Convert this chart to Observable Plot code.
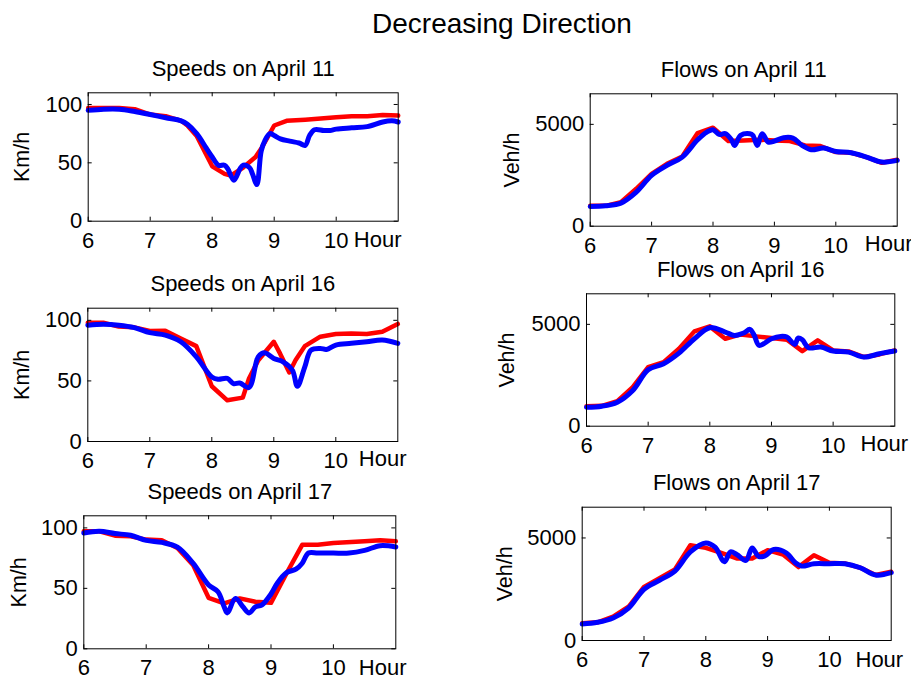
<!DOCTYPE html>
<html>
<head>
<meta charset="utf-8">
<script src="https://cdn.jsdelivr.net/npm/d3@7"></script>
<script src="https://cdn.jsdelivr.net/npm/@observablehq/plot@0.6"></script>
<style>
  body { margin: 0; background: #fff; }
  #fig { position: relative; width: 911px; height: 676px; overflow: hidden; background: #fff;
         font-family: "Liberation Sans", Arial, Helvetica, sans-serif; }
  #fig svg { position: absolute; left: 0; top: 0; pointer-events: none; }
  #title { position: absolute; left: 502px; top: 9.6px; transform: translateX(-50%);
           font-size: 28px; line-height: 1; white-space: nowrap; color: #000; }
</style>
</head>
<body>
<div id="fig"><div id="title">Decreasing Direction</div></div>
<script>
// ---------- data (hour, value) ----------
const hourTicks = [6, 7, 8, 9, 10];
const speedTicks = [0, 50, 100];
const flowTicks = [0, 5000];
const speedDomain = [0, 110];
const flowDomain = [0, 6500];

const speedApr11Red = [[6,97],[6.5,97],[6.75,96],[7,91.4],[7.25,90],[7.5,86],[7.6,82],[7.75,73],[8,47],[8.2,40.5],[8.3,39],[8.5,46],[8.7,55],[8.8,63],[9,82],[9.2,86],[9.5,87],[10,89],[10.25,90],[10.5,90],[10.75,91],[11,90.5]];
const speedApr11Blue = [[6,95],[6.25,96],[6.5,96],[6.75,94],[7,91.4],[7.25,88.6],[7.5,86],[7.6,83],[7.75,75],[7.9,63],[8,55],[8.1,48],[8.2,48],[8.25,45],[8.35,35],[8.45,45],[8.5,48],[8.6,46],[8.65,40.5],[8.72,31.4],[8.79,60],[8.85,69],[8.93,75],[9,73.4],[9.1,70.6],[9.25,68.6],[9.4,67],[9.5,65],[9.57,73.4],[9.65,78.3],[9.8,77.7],[9.9,77.7],[10,78.9],[10.25,80],[10.5,81],[10.75,85],[10.9,86],[11,85]];

const flowApr11Red = [[6,1000],[6.25,1000],[6.5,1180],[6.75,1836],[7,2573],[7.25,3065],[7.5,3425],[7.6,3884],[7.75,4573],[8,4835],[8.1,4573],[8.25,4180],[8.5,4212],[8.75,4245],[9,4212],[9.25,4180],[9.5,3966],[9.75,3933],[10,3638],[10.25,3606],[10.5,3393],[10.75,3114],[11,3262]];
const flowApr11Blue = [[6,967],[6.25,1000],[6.5,1131],[6.75,1672],[7,2491],[7.25,2983],[7.5,3393],[7.75,4245],[7.9,4622],[8,4737],[8.1,4507],[8.2,4540],[8.3,4245],[8.35,3966],[8.45,4458],[8.6,4540],[8.65,4458],[8.72,3966],[8.8,4540],[8.9,4130],[9,4180],[9.15,4344],[9.3,4327],[9.45,3966],[9.6,3753],[9.8,3835],[10,3671],[10.25,3606],[10.5,3393],[10.75,3147],[11,3229]];

const speedApr16Red = [[6,98],[6.25,98],[6.5,94.8],[6.75,94.2],[7,91.2],[7.25,91.4],[7.5,85],[7.75,78.7],[8,45.6],[8.25,34],[8.5,36.2],[8.6,52],[8.75,67],[9,82.3],[9.1,72.7],[9.25,57],[9.35,67],[9.5,78.7],[9.75,86.5],[10,88.7],[10.25,89.2],[10.5,88.7],[10.75,90.6],[11,97]];
const speedApr16Blue = [[6,96],[6.25,96.7],[6.5,96],[6.75,94],[7,89.8],[7.25,87.8],[7.5,82.3],[7.75,69.9],[8,53.3],[8.1,51.4],[8.25,52],[8.35,47.8],[8.45,48.3],[8.6,44.5],[8.75,70],[8.85,73.2],[9,68.5],[9.15,65.7],[9.3,58.8],[9.38,45.6],[9.5,61.6],[9.6,75.4],[9.75,76.8],[9.85,76],[10,79.6],[10.25,81],[10.5,82.3],[10.75,83.7],[11,81]];

const flowApr16Red = [[6,983],[6.25,1000],[6.5,1229],[6.75,1918],[7,2901],[7.25,3147],[7.5,3802],[7.75,4655],[8,4901],[8.25,4294],[8.5,4507],[8.75,4409],[9,4327],[9.25,4245],[9.5,3688],[9.75,4212],[10,3720],[10.25,3671],[10.5,3393],[10.75,3524],[11,3720]];
const flowApr16Blue = [[6,934],[6.25,983],[6.5,1180],[6.75,1754],[7,2770],[7.25,3065],[7.5,3589],[7.75,4294],[8,4835],[8.25,4622],[8.4,4458],[8.55,4573],[8.65,4753],[8.72,4458],[8.8,3966],[9,4294],[9.15,4409],[9.25,4376],[9.38,4016],[9.43,4327],[9.5,4245],[9.6,3851],[9.8,3884],[10,3688],[10.25,3638],[10.5,3393],[10.75,3557],[11,3688]];

const speedApr17Red = [[6,97.2],[6.25,97.2],[6.5,93.6],[6.75,93],[7,90.3],[7.25,89.7],[7.5,83.3],[7.75,69.4],[8,42.2],[8.25,37.5],[8.5,41.7],[8.75,38.9],[9,38],[9.25,62.5],[9.5,86],[9.75,86],[10,87.5],[10.5,88.9],[10.75,89.7],[11,88.9]];
const speedApr17Blue = [[6,95.8],[6.25,97.2],[6.5,95.3],[6.75,93.9],[7,89.7],[7.25,88],[7.5,84],[7.75,70.8],[8,52.8],[8.15,47.2],[8.25,34.7],[8.3,29.7],[8.43,41.7],[8.55,34.7],[8.65,29.7],[8.75,34.7],[8.85,36.1],[9,45.3],[9.1,54.2],[9.25,63],[9.4,65.8],[9.5,70.8],[9.6,79.2],[9.75,79.2],[10,79.2],[10.25,79.2],[10.5,81.4],[10.75,85.3],[11,84.2]];

const flowApr17Red = [[6,839],[6.25,887],[6.5,1161],[6.75,1645],[7,2613],[7.25,3032],[7.5,3468],[7.75,4645],[8,4516],[8.25,4274],[8.5,4000],[8.75,4000],[9,4403],[9.25,4194],[9.5,3581],[9.75,4161],[10,3790],[10.25,3758],[10.5,3548],[10.75,3194],[11,3355]];
const flowApr17Blue = [[6,806],[6.25,887],[6.5,1097],[6.75,1581],[7,2500],[7.25,2935],[7.5,3387],[7.75,4323],[8,4758],[8.15,4548],[8.3,3839],[8.4,4323],[8.5,4194],[8.65,3903],[8.75,4516],[8.85,4113],[8.95,4113],[9.1,4435],[9.3,4274],[9.45,3790],[9.55,3629],[9.75,3742],[10,3742],[10.25,3742],[10.5,3548],[10.75,3194],[11,3306]];

// ---------- layout (page coordinates of each axes box) ----------
const FONT = "'Liberation Sans', Arial, Helvetica, sans-serif";
const panels = [
  {title: "Speeds on April 11", yLabel: "Km/h", red: speedApr11Red, blue: speedApr11Blue, dom: speedDomain, ticks: speedTicks,
   box: {l: 87.7, r: 397.7, t: 92.3, b: 220.7}, ylx: -66, hdx: -44.4, hdy: 18.5},
  {title: "Flows on April 11", yLabel: "Veh/h", red: flowApr11Red, blue: flowApr11Blue, dom: flowDomain, ticks: flowTicks,
   box: {l: 589.7, r: 896.7, t: 93.3, b: 225.7}, ylx: -78, hdx: -32.4, hdy: 17.5},
  {title: "Speeds on April 16", yLabel: "Km/h", red: speedApr16Red, blue: speedApr16Blue, dom: speedDomain, ticks: speedTicks,
   box: {l: 87.3, r: 397.3, t: 307.7, b: 441}, ylx: -65.6, hdx: -39, hdy: 17.3},
  {title: "Flows on April 16", yLabel: "Veh/h", red: flowApr16Red, blue: flowApr16Blue, dom: flowDomain, ticks: flowTicks,
   box: {l: 586, r: 894.3, t: 293.3, b: 425.7}, ylx: -79.3, hdx: -34.3, hdy: 17.6},
  {title: "Speeds on April 17", yLabel: "Km/h", red: speedApr17Red, blue: speedApr17Blue, dom: speedDomain, ticks: speedTicks,
   box: {l: 83.3, r: 395.3, t: 515.3, b: 648.3}, ylx: -65, hdx: -37, hdy: 19},
  {title: "Flows on April 17", yLabel: "Veh/h", red: flowApr17Red, blue: flowApr17Blue, dom: flowDomain, ticks: flowTicks,
   box: {l: 581.7, r: 890.7, t: 506.7, b: 640}, ylx: -76.7, hdx: -35.7, hdy: 19.3}
];

const W = 911, H = 676;
const fig = document.getElementById("fig");

for (const p of panels) {
  const fw = p.box.r - p.box.l, fh = p.box.b - p.box.t;
  const tickLen = 4;
  const chart = Plot.plot({
    width: W, height: H,
    marginLeft: p.box.l, marginRight: W - p.box.r, marginTop: p.box.t, marginBottom: H - p.box.b,
    style: {background: "transparent", overflow: "visible", fontFamily: FONT, color: "black"},
    x: {domain: [6, 11]},
    y: {domain: p.dom},
    marks: [
      Plot.line(p.red, {x: d => d[0], y: d => d[1], stroke: "#ff0000", strokeWidth: 4.5}),
      Plot.line(p.blue, {x: d => d[0], y: d => d[1], stroke: "#0000ff", strokeWidth: 5, curve: "catmull-rom"}),
      Plot.frame({stroke: "black", strokeWidth: 1}),
      Plot.ruleX(hourTicks, {x: d => d, insetTop: fh - tickLen, stroke: "black"}),
      Plot.ruleX(hourTicks, {x: d => d, insetBottom: fh - tickLen, stroke: "black"}),
      Plot.ruleY(p.ticks, {y: d => d, insetRight: fw - tickLen, stroke: "black"}),
      Plot.ruleY(p.ticks, {y: d => d, insetLeft: fw - tickLen, stroke: "black"}),
      Plot.axisX({ticks: hourTicks, tickSize: 0, tickPadding: 11, fontSize: 22, label: null, tickFormat: d => String(d)}),
      Plot.axisY({ticks: p.ticks, tickSize: 0, tickPadding: 6, fontSize: 22, label: null, tickFormat: d => String(d)}),
      Plot.text([p.yLabel], {text: d => d, frameAnchor: "left", dx: p.ylx, rotate: -90, fontSize: 21.5,
        textAnchor: "middle", lineAnchor: "middle", fill: "black"}),
      Plot.text([p.title], {text: d => d, frameAnchor: "top", dy: -24, fontSize: 22,
        textAnchor: "middle", lineAnchor: "middle", fill: "black"}),
      Plot.text(["Hour"], {text: d => d, frameAnchor: "bottom-right", dx: p.hdx, dy: p.hdy, textAnchor: "start",
        lineAnchor: "middle", fontSize: 22, fill: "black"})
    ]
  });
  fig.appendChild(chart);
}
</script>
</body>
</html>
